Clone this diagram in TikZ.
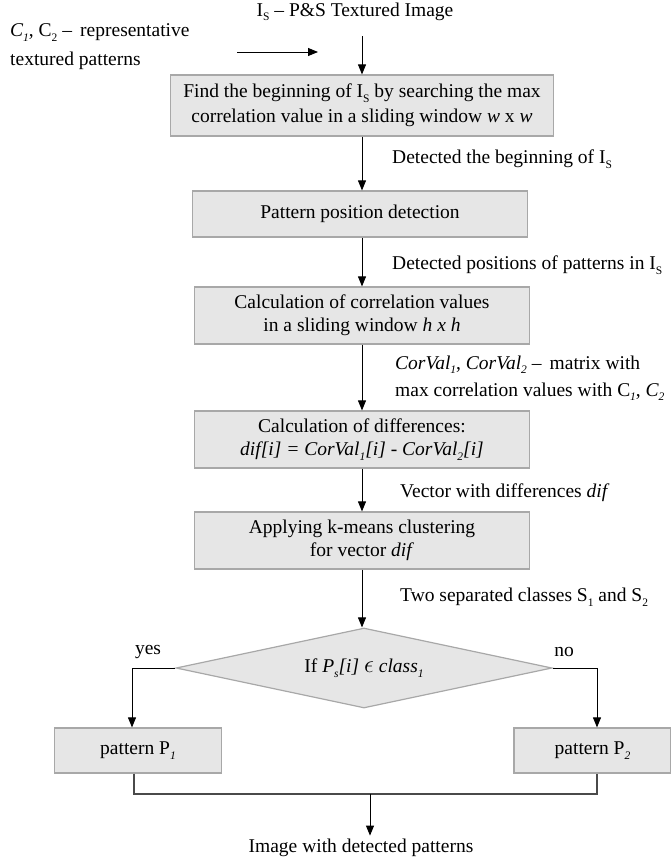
\documentclass[tikz,border=0pt]{standalone}
\usepackage{fontspec}
\setmainfont{Liberation Serif}
\usetikzlibrary{arrows.meta,shapes.geometric}
\definecolor{boxfill}{HTML}{E6E6E6}
\definecolor{boxline}{HTML}{A8A8A8}
\definecolor{joinline}{HTML}{4A4A4A}
\tikzset{
  procbox/.style={draw=boxline, fill=boxfill, line width=1.2pt, align=center, inner sep=0pt},
  decision/.style={diamond, aspect=4.7, draw=boxline, fill=boxfill, line width=1.2pt,
    inner sep=0pt, minimum width=376pt, minimum height=80pt},
  flowarrow/.style={-{Triangle[length=10pt,width=8pt]}, black, line width=0.9pt},
  joinpath/.style={joinline, line width=1.2pt},
  sidelabel/.style={anchor=west, align=left, inner sep=0pt},
}
\newcommand{\lowsub}[1]{\raisebox{-0.5ex}{\fontsize{11.5}{11.5}\selectfont #1}}

\begin{document}
\begin{tikzpicture}[x=1pt, y=-1pt, font=\fontsize{19.5}{23}\selectfont]
    \useasboundingbox (0,0) rectangle (671,862);
    % ---------------- inputs ----------------
    \node (src) at (355,12) {I\lowsub{S} -- P\&S Textured Image};
    \coordinate (srcend) at (362,36);
    \node[sidelabel, font=\fontsize{19.5}{29}\selectfont] (pat) at (10,47)
      {\textit{C\lowsub{1}}, C\lowsub{2} --\, representative\\textured patterns};
    \coordinate (patin) at (237,52);
    \coordinate (patout) at (318,52);
    \draw[flowarrow] (patin) -- (patout);
    % ---------------- main column ----------------
    \node[procbox, minimum width=383pt, minimum height=61pt, font=\fontsize{19.5}{25}\selectfont]
      (b1) at (362,105.5)
      {Find the beginning of I\lowsub{S} by searching the max\\
       correlation value in a sliding window \textit{w} x \textit{w}};
    \node[procbox, minimum width=335pt, minimum height=46pt] (b2) at (360,214)
      {Pattern position detection};
    \node[procbox, minimum width=335pt, minimum height=57pt] (b3) at (362,315.5)
      {Calculation of correlation values\\in a sliding window \textit{h x h}};
    \node[procbox, minimum width=335pt, minimum height=57pt] (b4) at (362,439.5)
      {Calculation of differences:\\
       \textit{dif[i] = CorVal\lowsub{1}[i] - CorVal\lowsub{2}[i]}};
    \node[procbox, minimum width=335pt, minimum height=57pt] (b5) at (362,540.5)
      {Applying k-means clustering\\for vector \textit{dif}};
    \draw[flowarrow] (srcend) -- (b1.north);
    \draw[flowarrow] (b1.south) -- (b1.south |- b2.north);
    \draw[flowarrow] (b2.south -| b1.south) -- (b1.south |- b3.north);
    \draw[flowarrow] (b3) -- (b4);
    \draw[flowarrow] (b4) -- (b5);
    % labels beside the arrows
    \node[sidelabel] (l1) at (392,159) {Detected the beginning of I\lowsub{S}};
    \node[sidelabel] (l2) at (392,265) {Detected positions of patterns in I\lowsub{S}};
    \node[sidelabel, font=\fontsize{19.5}{27}\selectfont] (l3) at (395,378)
      {\textit{CorVal\lowsub{1}}, \textit{CorVal\lowsub{2}} --\, matrix with\\
       max correlation values with C\lowsub{\textit{1}}, \textit{C\lowsub{2}}};
    \node[sidelabel] (l4) at (400,493) {Vector with differences \textit{dif}};
    \node[sidelabel] (l5) at (400,597) {Two separated classes S\lowsub{1} and S\lowsub{2}};
    % ---------------- decision ----------------
    \node[decision] (dec) at (364,668)
      {If \textit{P\lowsub{s}[i]} {\fontsize{24}{24}\selectfont$\epsilon$} \textit{class\lowsub{1}}};
    \draw[flowarrow] (b5.south) -- (b5.south |- dec.north);
    \node (yes) at (148,652) {yes};
    \node (no) at (564,652) {no};
    \node[procbox, minimum width=167pt, minimum height=45pt] (p1) at (138,750.5)
      {pattern P\lowsub{\textit{1}}};
    \node[procbox, minimum width=157pt, minimum height=45pt] (p2) at (592.5,750.5)
      {pattern P\lowsub{\textit{2}}};
    \draw[flowarrow] (dec.west) -| ([xshift=-6pt]p1.north);
    \draw[flowarrow] (dec.east) -| ([xshift=4.5pt]p2.north);
    % ---------------- output ----------------
    \coordinate (join) at (370,794);
    \draw[joinpath] ([xshift=-4pt]p1.south) -- ([xshift=-4pt]p1.south |- join)
      -- ([xshift=4.5pt]p2.south |- join) -- ([xshift=4.5pt]p2.south);
    \node (out) at (361,848) {Image with detected patterns};
    \draw[flowarrow] (join) -- (join |- out.north);
  \end{tikzpicture}
\end{document}
